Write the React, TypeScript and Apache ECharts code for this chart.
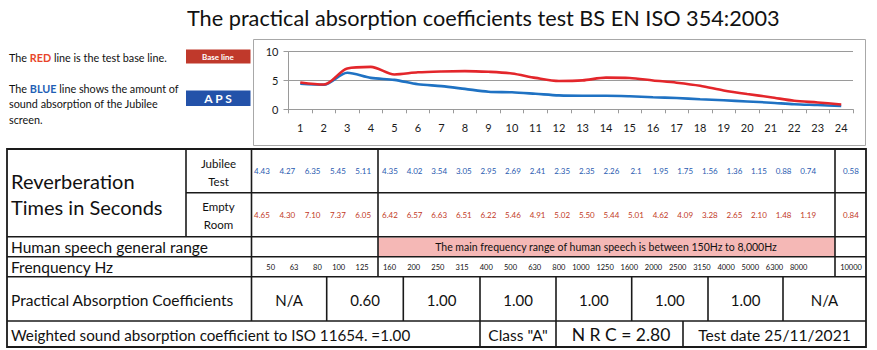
import React, { useEffect, useRef } from "react";
import * as echarts from "echarts";

// ---------- data ----------
const categories = ["1","2","3","4","5","6","7","8","9","10","11","12","13","14","15","16","17","18","19","20","21","22","23","24"];
const jubileeTest = [4.43,4.27,6.35,5.45,5.11,4.35,4.02,3.54,3.05,2.95,2.69,2.41,2.35,2.35,2.26,2.1,1.95,1.75,1.56,1.36,1.15,0.88,0.74,0.58];
const emptyRoom = [4.65,4.30,7.10,7.37,6.05,6.42,6.57,6.63,6.51,6.22,5.46,4.91,5.02,5.50,5.44,5.01,4.62,4.09,3.28,2.65,2.10,1.48,1.19,0.84];
const frequencies = ["50","63","80","100","125","160","200","250","315","400","500","630","800","1000","1250","1600","2000","2500","3150","4000","5000","6300","8000","10000"];
const coefficients = ["N/A","0.60","1.00","1.00","1.00","1.00","1.00","N/A"];
const yTicks = [0, 5, 10];

const titleText = "The practical absorption coefficients test BS EN ISO 354:2003";
const speechNote = "The main frequency range of human speech is between 150Hz to 8,000Hz";
const weightedText = "Weighted sound absorption coefficient to ISO 11654. =1.00";
const classText = 'Class "A"';
const nrcText = "N R C = 2.80";
const dateText = "Test date 25/11/2021";

// ---------- style ----------
const FF = 'Lato, "Noto Sans", sans-serif';
const RED = "#e3262b";
const BLUE = "#1f72c3";
const NUM_BLUE = "#2a5bb0";
const NUM_RED = "#c23a27";
const LINE = "#1a1a1a";

const T = (x: number, y: number, text: string, size: number, o: any = {}) => ({
  type: "text",
  x,
  y,
  silent: true,
  style: {
    text,
    fontSize: size,
    fontFamily: FF,
    fill: o.fill || "#111",
    fontWeight: o.weight || "normal",
    align: o.align || "left",
    textAlign: o.align || "left",
    verticalAlign: "middle",
    textVerticalAlign: "middle",
    rich: o.rich,
  },
  z: 10,
});

const L = (x1: number, y1: number, x2: number, y2: number, w = 1.6, c = LINE) => ({
  type: "line",
  silent: true,
  shape: { x1, y1, x2, y2 },
  style: { stroke: c, lineWidth: w },
  z: 9,
});

function numX(i: number) {
  if (i < 5) return 262 + i * 25.3;
  if (i < 23) return 390 + (i - 5) * 24.6;
  return 851;
}
function freqRightX(i: number) {
  if (i < 5) return 275 + i * 23.4;
  if (i < 23) return 396 + (i - 5) * 24.2;
  return 866;
}

function buildGraphic() {
  const g: any[] = [];
  // title
  g.push(T(187, 18, titleText, 21.7));
  // chart frame
  g.push({ type: "rect", silent: true, shape: { x: 253.5, y: 39.5, width: 612, height: 106 }, style: { fill: "none", stroke: "#a8a8a8", lineWidth: 1 }, z: 0 });
  // left legend texts
  const lg = 10.8;
  g.push(T(9, 57, "The {r|RED} line is the test base line.", lg, { rich: { r: { fill: "#e8452b", fontWeight: "bold", fontSize: lg, fontFamily: FF } } }));
  g.push(T(9, 88, "The {b|BLUE} line shows the amount of", lg, { rich: { b: { fill: "#1f5fb5", fontWeight: "bold", fontSize: lg, fontFamily: FF } } }));
  g.push(T(9, 103.5, "sound absorption of the Jubilee", lg));
  g.push(T(9, 119, "screen.", lg));
  g.push({ type: "rect", silent: true, shape: { x: 186, y: 49.5, width: 64.5, height: 14 }, style: { fill: "#c0392b" }, z: 5 });
  g.push(T(218, 56.5, "Base line", 8, { fill: "#fff", weight: "bold", align: "center" }));
  g.push({ type: "rect", silent: true, shape: { x: 186, y: 90.5, width: 64.5, height: 15.5 }, style: { fill: "#2352a9" }, z: 5 });
  g.push(T(218, 98.5, "A P S", 12, { fill: "#fff", weight: "bold", align: "center" }));

  // table
  const left = 7, right = 866, top = 149, bottom = 347;
  g.push({ type: "rect", silent: true, shape: { x: 378, y: 237.5, width: 457, height: 19 }, style: { fill: "#f5b8b6" }, z: 1 });
  g.push({ type: "rect", silent: true, shape: { x: left, y: top, width: right - left, height: bottom - top }, style: { fill: "none", stroke: LINE, lineWidth: 1.8 }, z: 9 });
  g.push(L(186, 192.7, right, 192.7));
  g.push(L(left, 236.7, right, 236.7));
  g.push(L(left, 256.7, right, 256.7));
  g.push(L(left, 276.7, right, 276.7));
  g.push(L(left, 321, right, 321));
  g.push(L(186, top, 186, 236.7));
  g.push(L(251.5, top, 251.5, 321));
  g.push(L(378, top, 378, 276.7));
  g.push(L(835, top, 835, 276.7));
  const coefEdges = [251.5, 326.7, 403.3, 480, 556, 631.7, 708, 783, 866];
  for (let k = 1; k < coefEdges.length - 1; k++) g.push(L(coefEdges[k], 276.7, coefEdges[k], 321));
  [480, 556, 683].forEach((x) => g.push(L(x, 321, x, bottom)));

  // row labels
  g.push(T(11, 181, "Reverberation", 20));
  g.push(T(11, 207, "Times in Seconds", 20));
  g.push(T(218.5, 163, "Jubilee", 11.5, { align: "center" }));
  g.push(T(218.5, 181, "Test", 11.5, { align: "center" }));
  g.push(T(218.5, 206.5, "Empty", 11.5, { align: "center" }));
  g.push(T(218.5, 224.5, "Room", 11.5, { align: "center" }));
  g.push(T(11, 247, "Human speech general range", 15.5));
  g.push(T(11, 267, "Frenquency Hz", 15.5));
  g.push(T(11, 299.5, "Practical Absorption Coefficients", 15.5));
  g.push(T(11, 334.5, weightedText, 15.2));
  g.push(T(606, 247, speechNote, 10.5, { align: "center" }));

  jubileeTest.forEach((v, i) => g.push(T(numX(i), 171, String(v), 8, { fill: NUM_BLUE, align: "center" })));
  emptyRoom.forEach((v, i) => g.push(T(numX(i), 215, v.toFixed(2), 8, { fill: NUM_RED, align: "center" })));
  frequencies.forEach((f, i) =>
    g.push(i === 23 ? T(851, 267, f, 7.5, { align: "center" }) : T(freqRightX(i), 267, f, 7.5, { align: "right" }))
  );
  coefficients.forEach((c, i) => g.push(T((coefEdges[i] + coefEdges[i + 1]) / 2, 300, c, 15, { align: "center" })));
  g.push(T(518, 334.5, classText, 15.5, { align: "center" }));
  g.push(T(621, 334.5, nrcText, 17.5, { align: "center" }));
  g.push(T(774.5, 334.5, dateText, 15.6, { align: "center" }));
  return g;
}

export default function App() {
  const ref = useRef<HTMLDivElement>(null);
  useEffect(() => {
    if (!ref.current) return;
    const chart = echarts.init(ref.current, undefined, { renderer: "svg" });
    chart.setOption({
      animation: false,
      backgroundColor: "#fff",
      grid: { left: 288.5, top: 51.7, width: 564.5, height: 57.6, containLabel: false },
      xAxis: {
        type: "category",
        data: categories,
        boundaryGap: true,
        axisLine: { lineStyle: { color: "#9a9a9a", width: 1 } },
        axisTick: { show: true, length: 4, lineStyle: { color: "#9a9a9a" } },
        axisLabel: { color: "#1a1a1a", fontSize: 11, fontFamily: FF, margin: 13, interval: 0 },
        splitLine: { show: false },
      },
      yAxis: {
        type: "value",
        min: yTicks[0],
        max: yTicks[yTicks.length - 1],
        interval: yTicks[1] - yTicks[0],
        axisLine: { show: true, lineStyle: { color: "#9a9a9a", width: 1 } },
        axisTick: { show: true, length: 5, lineStyle: { color: "#9a9a9a" } },
        axisLabel: { color: "#1a1a1a", fontSize: 11, fontFamily: FF, margin: 10 },
        splitLine: { show: true, lineStyle: { color: "#9a9a9a", width: 1 } },
      },
      series: [
        {
          name: "APS",
          type: "line",
          data: jubileeTest,
          smooth: 0.3,
          symbol: "none",
          lineStyle: { color: BLUE, width: 2.6 },
          z: 3,
        },
        {
          name: "Base line",
          type: "line",
          data: emptyRoom,
          smooth: 0.3,
          symbol: "none",
          lineStyle: { color: RED, width: 2.6 },
          z: 4,
        },
      ],
      graphic: buildGraphic(),
    });
    return () => chart.dispose();
  }, []);
  return <div ref={ref} style={{ position: "absolute", left: 0, top: 0, width: 877, height: 350 }} />;
}
